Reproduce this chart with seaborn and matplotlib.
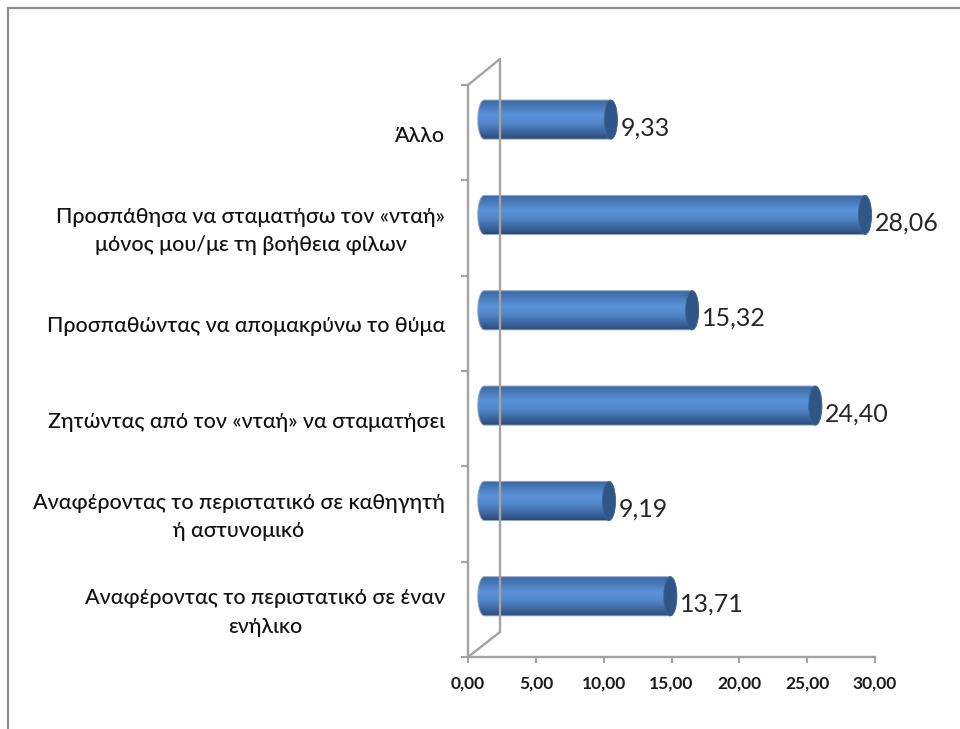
import numpy as np
import pandas as pd
import matplotlib
matplotlib.use("Agg")
import matplotlib.pyplot as plt
import seaborn as sns
from matplotlib.colors import LinearSegmentedColormap
from matplotlib.lines import Line2D
from matplotlib.patches import Ellipse, Polygon

categories = [
    "Άλλο",
    "Προσπάθησα να σταματήσω τον «νταή»\nμόνος μου/με τη βοήθεια φίλων",
    "Προσπαθώντας να απομακρύνω το θύμα",
    "Ζητώντας από τον «νταή» να σταματήσει",
    "Αναφέροντας το περιστατικό σε καθηγητή\nή αστυνομικό",
    "Αναφέροντας το περιστατικό σε έναν\nενήλικο",
]
values = [9.33, 28.06, 15.32, 24.40, 9.19, 13.71]
x_ticks = [0, 5, 10, 15, 20, 25, 30]

W, H = 960, 729
GREY = "#a3a3a3"
sns.set_theme(style="white")
plt.rcParams["font.family"] = ["Lato", "Open Sans", "DejaVu Sans"]

fig = plt.figure(figsize=(W / 100, H / 100), dpi=100, facecolor="white")
ax = fig.add_axes([468 / W, 1 - 657 / H, (875 - 468) / W, (657 - 85) / H])

df = pd.DataFrame({"category": categories, "value": values})
sns.barplot(data=df, y="category", x="value", orient="h", color="#5a90d5",
            width=0.41, saturation=1, ax=ax, zorder=3)
ax.set_xlim(0, 30)
ax.set_ylim(5.5, -0.5)
ax.set_xlabel("")
ax.set_ylabel("")

# 3D look: the bars sit forward of the axis plane
dx = 1.2         # data units to the right
dy = -0.137      # category units upward
e = 0.48         # half-width of the end ellipses
cmap = LinearSegmentedColormap.from_list(
    "cyl", ["#3a659e", "#4a7cbc", "#5b92d8", "#5288cb", "#3f6ba6", "#2c4b75"])
grad = np.linspace(0, 1, 128).reshape(-1, 1)

for patch, v in zip(ax.patches, values):
    y0 = patch.get_y() + dy
    h = patch.get_height()
    patch.set_x(dx)
    patch.set_y(y0)
    x1 = dx + v
    yc = y0 + h / 2
    a = np.linspace(np.pi / 2, 3 * np.pi / 2, 40)
    left = np.c_[dx + e * np.cos(a), yc - (h / 2) * np.sin(a)]
    right = np.c_[x1 - e * np.cos(a), yc + (h / 2) * np.sin(a)]
    outline = np.vstack([left, right, left[:1]])
    clip = Polygon(outline, closed=True, transform=ax.transData,
                   facecolor="none", edgecolor="#8fa6c4", lw=0.7, zorder=5)
    ax.add_patch(clip)
    im = ax.imshow(grad, cmap=cmap, aspect="auto", zorder=4,
                   extent=(dx - e, x1 + e, y0 + h, y0), interpolation="bilinear")
    im.set_clip_path(clip)
    ax.add_patch(Ellipse((x1, yc), 2 * e, h, facecolor="#2f5687",
                         edgecolor="#3f6596", lw=0.6, zorder=6))
    ax.text(x1 + 0.72, yc + 0.085, f"{v:.2f}".replace(".", ","), fontsize=18,
            color="#262626", ha="left", va="center", zorder=7)

ax.set_xlim(0, 30)
ax.set_ylim(5.5, -0.5)

sns.despine(ax=ax, top=True, right=True)
for s in ("left", "bottom"):
    ax.spines[s].set_color(GREY)
    ax.spines[s].set_linewidth(1.7)
    ax.spines[s].set_zorder(2)

ax.set_xticks(x_ticks)
ax.set_xticklabels([f"{t:.2f}".replace(".", ",") for t in x_ticks],
                   fontsize=12.5, color="#1a1a1a", fontweight="bold")
ax.set_yticks(np.arange(-0.5, 6, 1), minor=False)
ax.set_yticklabels([""] * 7)
ax.tick_params(axis="x", bottom=True, length=4.5, width=1.5, color=GREY, pad=9)
ax.tick_params(axis="y", left=True, length=5, width=1.5, color=GREY)

for i, c in enumerate(categories):
    ax.annotate(c, xy=(0, i), xycoords=("axes fraction", "data"),
                xytext=(-23 * 0.72, -3 * 0.72), textcoords="offset points",
                ha="right", va="center", multialignment="center",
                fontsize=15.5, color="#111111", linespacing=1.55,
                fontweight="medium")

def px(xs, ys):
    return [x / W for x in xs], [1 - y / H for y in ys]

# side wall of the 3D frame
for xs, ys in [((468, 500), (85, 59)), ((500, 500), (59, 632)), ((468, 500), (657, 632))]:
    fx, fy = px(xs, ys)
    fig.add_artist(Line2D(fx, fy, color=GREY, lw=1.7, transform=fig.transFigure, zorder=0.5))

# chart frame
for xs, ys in [((8, 960), (8, 8)), ((8, 8), (8, 729))]:
    fx, fy = px(xs, ys)
    fig.add_artist(Line2D(fx, fy, color="#8c8c8c", lw=1.6, transform=fig.transFigure))

ax.patch.set_alpha(0)
fig.savefig("out.png", dpi=100, facecolor="white")
